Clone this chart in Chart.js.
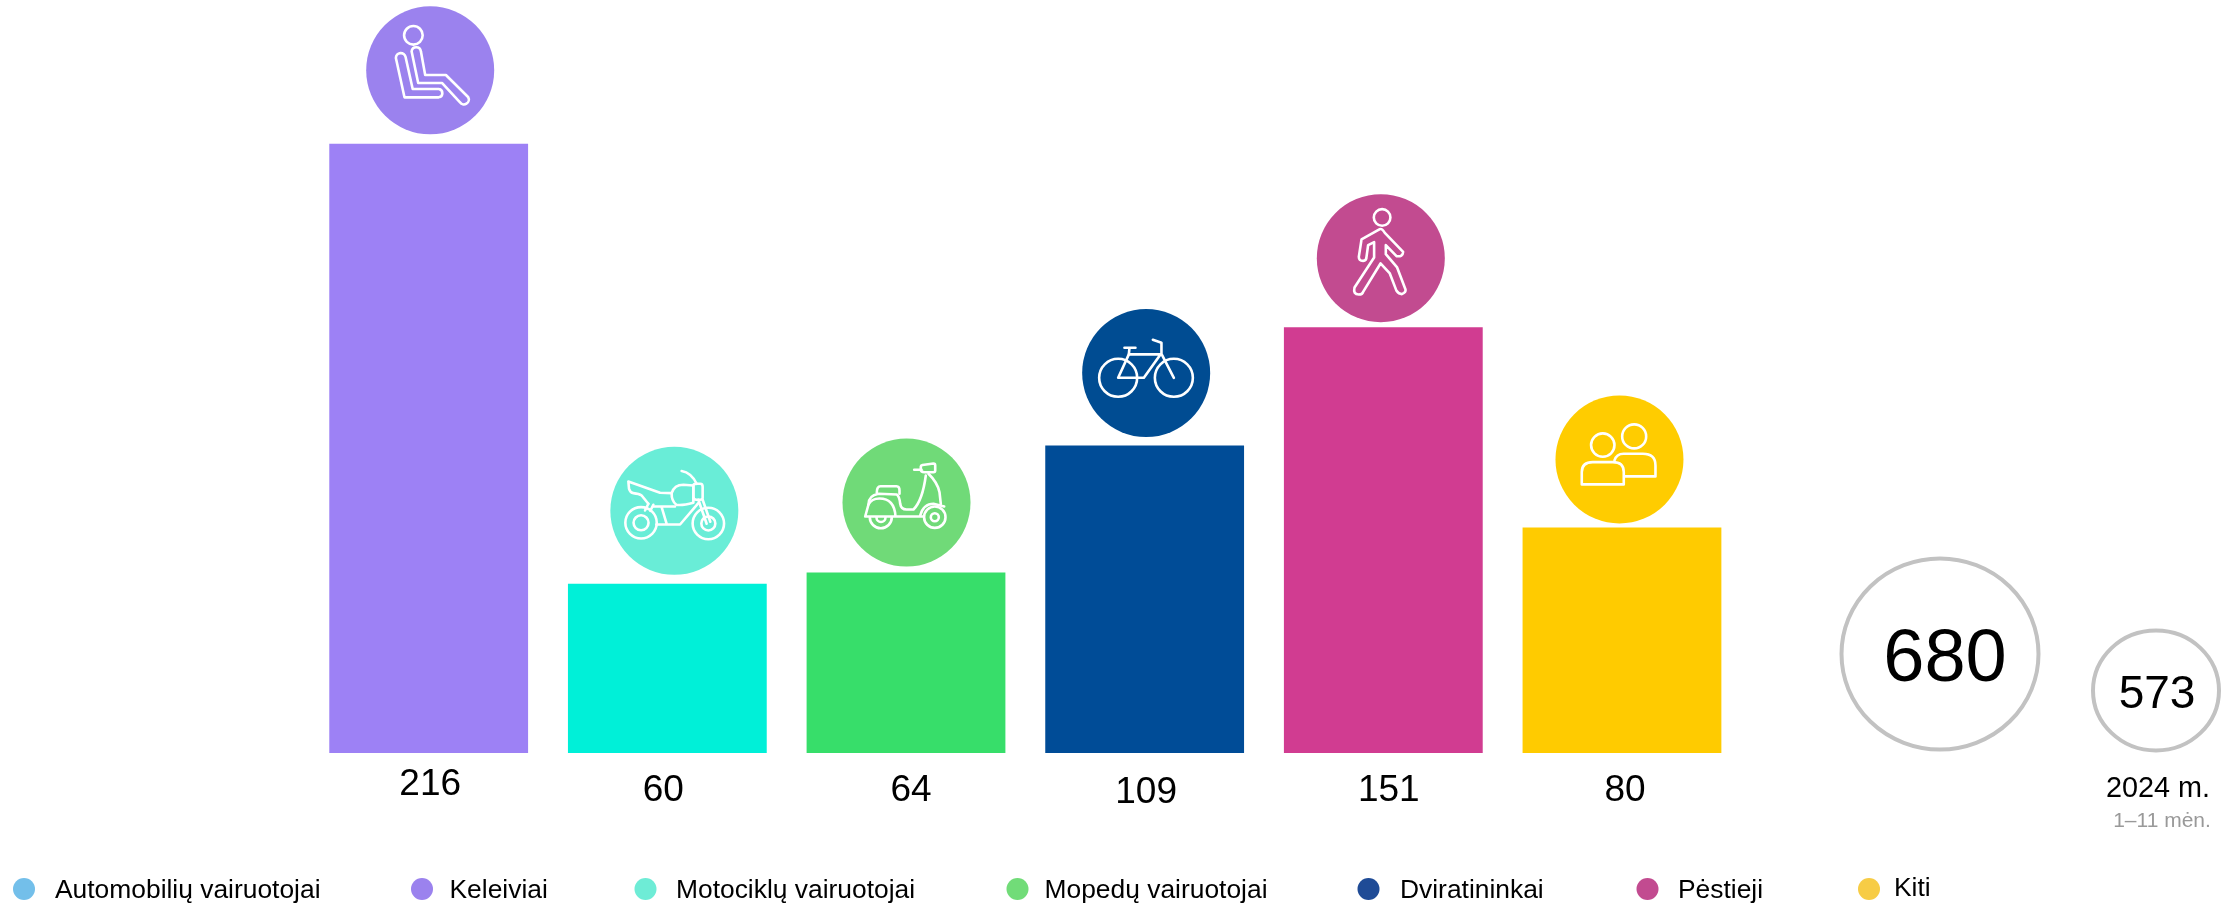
<!DOCTYPE html>
<html>
<head>
<meta charset="utf-8">
<title>Žuvusieji pagal eismo dalyvius</title>
<style>
  html, body { margin: 0; padding: 0; background: #fff; }
  canvas { display: block; }
</style>
<script src="https://cdn.jsdelivr.net/npm/chart.js@4/dist/chart.umd.min.js"></script>
</head>
<body>
<canvas id="graph" width="2236" height="904"></canvas>
<script>
const categories = ["Automobilių vairuotojai", "Keleiviai", "Motociklų vairuotojai", "Mopedų vairuotojai", "Dviratininkai", "Pėstieji", "Kiti"];
const values = [null, 216, 60, 64, 109, 151, 80];
const barColors = ["#73bfea", "#9d81f5", "#00f0d8", "#37de6a", "#004c97", "#d13c91", "#ffcb00"];
const markerColors = ["#73bfea", "#9b82ee", "#6eecd6", "#71dc78", "#1f4b96", "#c24b90", "#f7cc45"];
const iconColors = [null, "#9b82ee", "#69edd7", "#70da78", "#004c92", "#c24b90", "#ffcc00"];
const total = "680";
const previousTotal = "573";
const previousYear = "2024 m.";
const previousPeriod = "1–11 mėn.";

const FONT = '"Liberation Sans", Arial, sans-serif';

// legend is not evenly spaced in the original
const legendMarkerX = [24, 422, 645.5, 1017.5, 1368.5, 1647.5, 1869];
const legendTextX = [55, 449.5, 676, 1044.5, 1400, 1678, 1894];
// small nudges of value labels and icons from the bar centre / top
const labelNudgeX = [0, 1.5, -4, 5, 1.5, 5.5, 3];
const labelNudgeY = [0, 32, 38, 38, 40, 38, 38];
const iconNudgeX = [0, 1.5, 7, 0.5, 1.5, -2.5, -2.5];
const iconNudgeY = [0, 73.5, 73, 70, 72.5, 69, 68];

const icons = [
  null,
  // seat
  { circles: [[-16.8, -35, 9.3]],
    paths: ["M-34.3 -12.3 L-25.7 27 L8.6 27 A4.2 4.2 0 0 0 8.6 18.7 L-17.5 18.7 L-24.6 -13.3 A4.9 4.9 0 0 0 -34.3 -12.3 Z",
            "M-18.6 -19 L-12 12.7 L12 12.7 L29.6 31.7 A4.7 4.7 0 0 0 37.9 26.7 L15.7 4.7 L-5 4.7 L-9.3 -19 A4.7 4.7 0 0 0 -18.6 -19 Z"] },
  // motorcycle
  { circles: [[-33.3, 12, 15.7], [-33.3, 12, 7.5], [34, 12.7, 15.7], [34, 12.7, 7]],
    paths: ["M-46 -29.3 L-14.3 -18 L-2.7 -17.7 M-46 -29.3 L-45.3 -22 Q-44 -18 -41 -17.7 Q-35 -17 -32.7 -15.3 L-26 -7",
            "M-2.7 -17.7 Q0 -26 9 -26 L19 -25.3 L19 -8 Q8 -5 2 -6 Q-3 -10 -2.7 -17.7 Z",
            "M19 -25.3 Q19 -27 22 -27 L26 -27 Q28.3 -27 28.3 -24 L28.3 -13 Q28.3 -11 26 -11 L22 -11 Q19 -11 19 -14 Z",
            "M24 -11 L32.3 13 M28.3 -11 L36 11",
            "M7.3 -39.7 Q17 -38 22.3 -27",
            "M-21 -4.3 L0.7 -4.3 M-12.7 -3.7 L-7.7 13 M-18 13.7 L5.7 13.7 L24 -7.7",
            "M-26 -7 L-29.3 -0.3 M-21 -6 L-24 0"] },
  // scooter
  { circles: [[28.3, 14.7, 10.7], [28.3, 14.7, 4]],
    paths: ["M-41.3 14 L17 14 M-41.3 14 L-38 2 Q-35 -4 -27 -4 Q-12 -4 -11 14",
            "M-38 2 Q-38 -7 -28 -8.7 L-9.7 -8 Q-7 -6 -6.3 1.3 Q-5.5 7 0 7 L7 7 Q16 -2 19.3 -27",
            "M-29.7 -10 Q-29.7 -16.3 -26 -16.3 L-10 -16.3 Q-7 -16.3 -7 -12 L-7 -8.7",
            "M22 -28.7 Q31 -20 33 -10.3 L34.3 1.3 M13.7 13 Q17 1.3 27 1.3 L37.7 4",
            "M14.3 -36 Q14.3 -37 16 -37.5 L27 -39 Q28.7 -39 28.7 -37 L28.7 -32 Q28.7 -30.3 27 -30.3 L18 -30.3 Q14.3 -30.3 14.3 -33 Z",
            "M7.7 -32.7 L15 -32.7",
            "M-36.7 14.7 A11 11 0 0 0 -14.7 14.7 M-30 15 A4.5 4.5 0 0 0 -21 15"] },
  // bicycle
  { circles: [[-28, 4.7, 19], [27.7, 4.7, 19]],
    paths: ["M-28 4.7 L-17.3 -18.7 L14.3 -18.7 L-2.3 4.7 Z",
            "M-17.3 -18.7 L-16.7 -25.3 M-21.7 -25.3 L-10.7 -25.3",
            "M27.7 4.7 L15.3 -19.3 L15.3 -30.3 L6.7 -33.3"] },
  // pedestrian
  { circles: [[1.3, -40.7, 8.3]],
    paths: ["M-1 -29 L-19.3 -18.7 L-22 -1.3 Q-22 2.7 -17.7 2.7 Q-14.3 2.7 -14.3 -1.3 L-12.7 -13 L-6.7 -16 L-6.7 -0.7 L-26.3 29.3 Q-28 36.3 -22 36.3 Q-18.3 36.3 -17.7 33.7 L-0.3 5.3 L9 15.3 L15.7 32.7 Q18 36 21 36 Q25.3 34 24.7 31.3 L16.3 9.3 L5 -4 L5 -13 L15.7 -2 Q22 -1 22.3 -6.3 L4 -25.3 Q1 -30 -1 -29 Z"] },
  // people
  { circles: [[-16.7, -14.3, 11.7], [14.7, -23, 12]],
    paths: ["M-37.7 25 L-37.7 12.7 Q-37.7 2.7 -26.7 2.7 L-6.7 2.7 Q4.3 2.7 4.3 12.7 L4.3 25 Z",
            "M-5 1 Q-3 -5.7 4 -5.7 L23.3 -5.7 Q36 -5.7 36 6 L36 17 L5 17"] }
];

const drawText = (ctx, text, x, y, size, color, align) => {
  ctx.font = size + "px " + FONT;
  ctx.fillStyle = color;
  ctx.textAlign = align || "center";
  ctx.textBaseline = "middle";
  ctx.fillText(text, x, y);
};

const drawRing = (ctx, x, y, rx, ry) => {
  ctx.beginPath();
  ctx.ellipse(x, y, rx, ry, 0, 0, Math.PI * 2);
  ctx.strokeStyle = "#c2c2c2";
  ctx.lineWidth = 4;
  ctx.stroke();
};

const drawIcon = (ctx, icon, color, x, y) => {
  ctx.save();
  ctx.translate(x, y);
  ctx.beginPath();
  ctx.arc(0, 0, 64, 0, Math.PI * 2);
  ctx.fillStyle = color;
  ctx.fill();
  ctx.strokeStyle = "#fff";
  ctx.lineWidth = 2.6;
  ctx.lineJoin = "round";
  ctx.lineCap = "round";
  icon.circles.forEach((c) => {
    ctx.beginPath();
    ctx.arc(c[0], c[1], c[2], 0, Math.PI * 2);
    ctx.stroke();
  });
  icon.paths.forEach((p) => ctx.stroke(new Path2D(p)));
  ctx.restore();
};

const extras = {
  id: "extras",
  afterDatasetsDraw(chart) {
    const ctx = chart.ctx;
    const xScale = chart.scales.x;
    const yScale = chart.scales.y;
    ctx.save();

    values.forEach((v, i) => {
      if (v === null) return;
      const x = xScale.getPixelForValue(i);
      drawIcon(ctx, icons[i], iconColors[i], x + iconNudgeX[i], yScale.getPixelForValue(v) - iconNudgeY[i]);
      drawText(ctx, String(v), x + labelNudgeX[i], yScale.getPixelForValue(0) + labelNudgeY[i], 37, "#000");
    });

    categories.forEach((name, i) => {
      ctx.beginPath();
      ctx.arc(legendMarkerX[i], 889, 11, 0, Math.PI * 2);
      ctx.fillStyle = markerColors[i];
      ctx.fill();
      drawText(ctx, name, legendTextX[i], i === 6 ? 889 : 890.5, 26.4, "#000", "left");
    });

    drawRing(ctx, 1940, 654, 98.5, 95.5);
    drawText(ctx, total, 1945, 661, 74, "#000");
    drawRing(ctx, 2156, 690.5, 63, 60);
    drawText(ctx, previousTotal, 2157, 695, 46, "#000");
    drawText(ctx, previousYear, 2158, 789, 28.8, "#000");
    drawText(ctx, previousPeriod, 2162, 821, 21, "#999");

    ctx.restore();
  },
};

new Chart(document.getElementById("graph").getContext("2d"), {
  type: "bar",
  data: {
    labels: categories,
    datasets: [
      {
        data: values,
        backgroundColor: barColors,
        borderWidth: 0,
        barPercentage: 0.833,
        categoryPercentage: 1,
      },
    ],
  },
  options: {
    responsive: false,
    animation: false,
    devicePixelRatio: 1,
    layout: { padding: { left: 70.7, right: 494.7, top: 0, bottom: 151 } },
    plugins: { legend: { display: false }, tooltip: { enabled: false } },
    scales: {
      x: { display: false },
      y: { display: false, min: 0, max: 267 },
    },
  },
  plugins: [extras],
});
</script>
</body>
</html>
